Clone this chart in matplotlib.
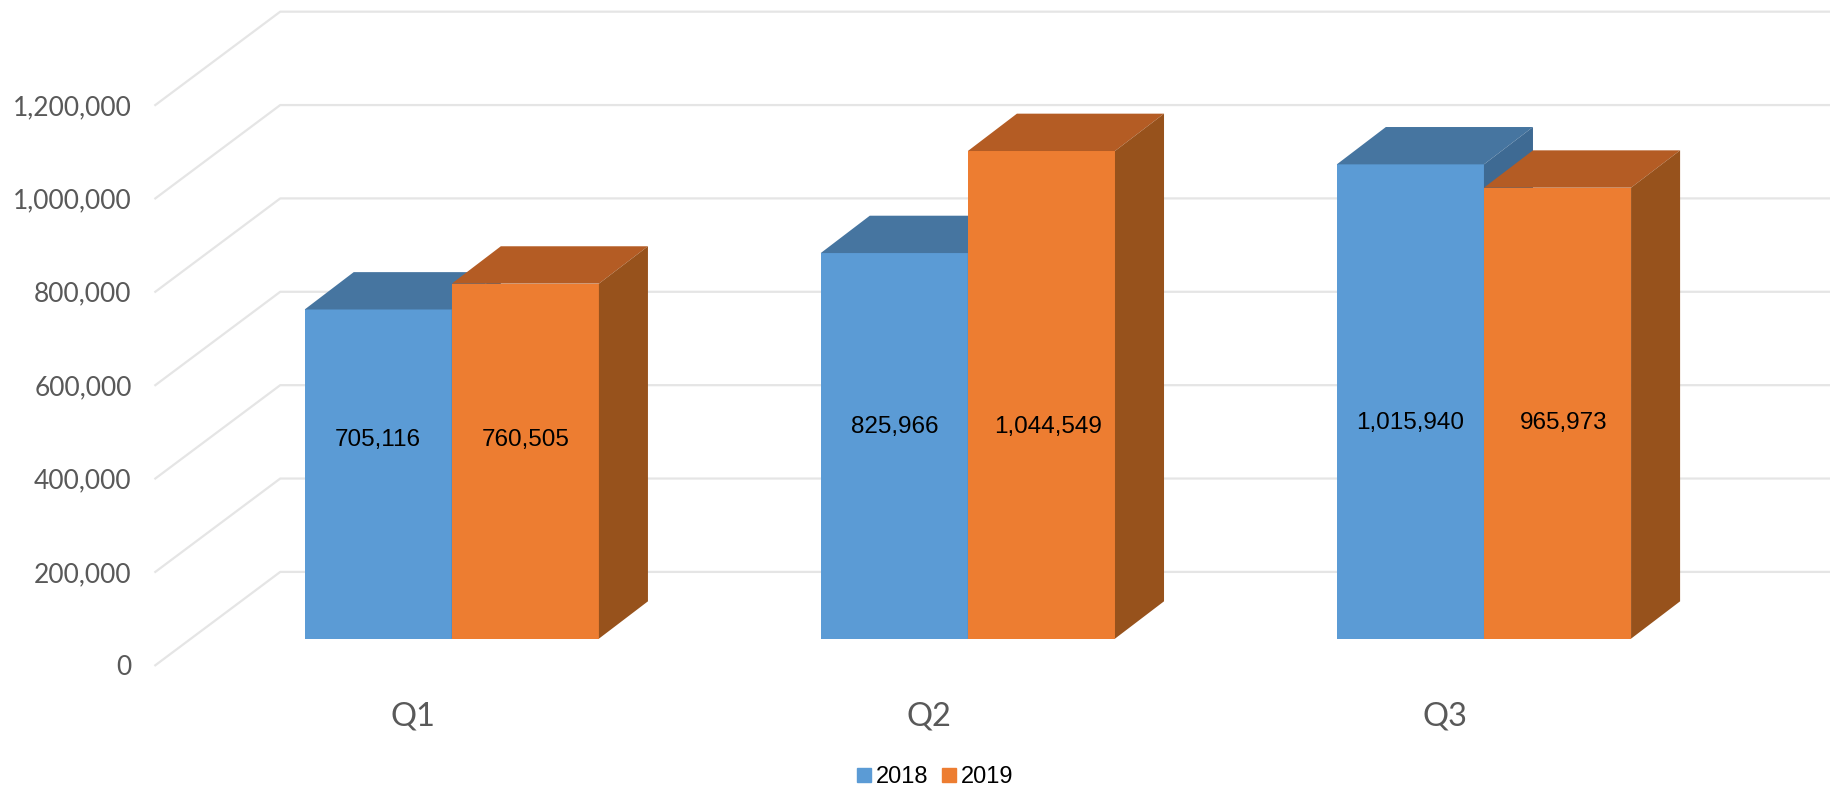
import matplotlib
matplotlib.use('Agg')
import matplotlib.pyplot as plt
from matplotlib.patches import Polygon, Patch

quarters = ['Q1', 'Q2', 'Q3']
sales_2018 = [705116, 825966, 1015940]
sales_2019 = [760505, 1044549, 965973]
yticks = [0, 200000, 400000, 600000, 800000, 1000000, 1200000]

# label heights in the reference don't sit at bar centres
label_y = [482500, 510000, 520000]

W, H = 1568, 676  # layout measured on the shrunk picture
fig = plt.figure(figsize=(18.31, 7.89), dpi=100)
ax = fig.add_axes([133 / W, (H - 570) / H, (W - 133) / W, 569 / H])
ax.set_xlim(-0.5, 2.747)
ax.set_ylim(0, 1422500)

wall_dx, wall_dy = 107 / 442, 200000  # oblique shift of the back wall
bar_w = 126 / 442
base = 57000  # bar foot, on the floor
depth_dx, depth_dy = 42 / 442, 80000
foot_dx = 0.0745

grid_col = '#E5E5E5'
for v in yticks:
    ax.plot([-0.5, -0.5 + wall_dx, 2.747], [v, v + wall_dy, v + wall_dy], color=grid_col, lw=1.6, zorder=1, clip_on=False)


def draw_bars(values, shift, front, top, side, z):
    for i, v in enumerate(values):
        left = i + foot_dx + shift
        ax.bar(left, v, bar_w, bottom=base, align='edge', color=front, zorder=z)
        y1 = base + v
        ax.add_patch(Polygon([(left, y1), (left + bar_w, y1), (left + bar_w + depth_dx, y1 + depth_dy), (left + depth_dx, y1 + depth_dy)],
                             facecolor=top, edgecolor='none', zorder=z))
        ax.add_patch(Polygon([(left + bar_w, base), (left + bar_w + depth_dx, base + depth_dy), (left + bar_w + depth_dx, y1 + depth_dy), (left + bar_w, y1)],
                             facecolor=side, edgecolor='none', zorder=z))


draw_bars(sales_2018, -bar_w, '#5B9BD5', '#4675A0', '#3E6A93', 2)
draw_bars(sales_2019, 0, '#ED7D31', '#B45C24', '#97521C', 3)

for i in range(3):
    ax.text(i + foot_dx - bar_w / 2, label_y[i], f'{sales_2018[i]:,}', ha='center', va='center', fontsize=17.5, family='Liberation Sans', color='black', zorder=5)
    ax.text(i + foot_dx + bar_w / 2 + (0.012 if i else 0), label_y[i], f'{sales_2019[i]:,}', ha='center', va='center', fontsize=17.5, family='Liberation Sans', color='black', zorder=5)

ax.set_xticks(range(3), quarters)
ax.set_yticks(yticks, [f'{v:,}' for v in yticks])
ax.tick_params(axis='x', length=0, pad=26, labelsize=23.5, labelcolor='#595959')
ax.tick_params(axis='y', length=0, pad=17, labelsize=19, labelcolor='#595959')
for lab in ax.get_xticklabels() + ax.get_yticklabels():
    lab.set_family('Lato')
for s in ax.spines.values():
    s.set_visible(False)
ax.patch.set_visible(False)

handles = [Patch(color='#5B9BD5', label='2018'), Patch(color='#ED7D31', label='2019')]
fig.legend(handles=handles, loc='center', bbox_to_anchor=(801 / W, 1 - 666 / H), ncol=2, frameon=False,
           prop={'family': 'Liberation Sans', 'size': 17}, handlelength=0.58, handleheight=0.58, handletextpad=0.2, columnspacing=0.6)

fig.savefig('out.png', dpi=100)
